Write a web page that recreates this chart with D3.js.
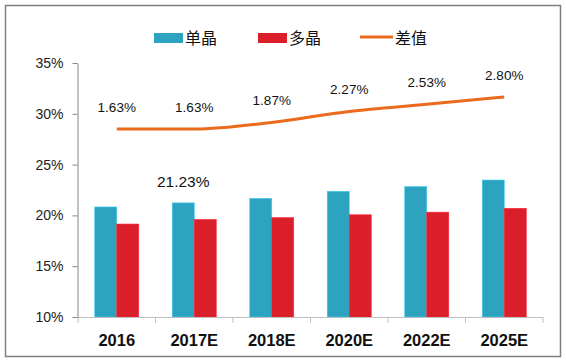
<!DOCTYPE html>
<html>
<head>
<meta charset="utf-8">
<script src="https://cdn.jsdelivr.net/npm/d3@7"></script>
<style>
  body { margin: 0; background: #fff; }
  svg { display: block; font-family: Arial, "Liberation Sans", sans-serif; }
</style>
</head>
<body>
<svg id="chart"></svg>
<script>
// Data
const categories = ['2016', '2017E', '2018E', '2020E', '2022E', '2025E'];
const monoValues = [20.83, 21.23, 21.67, 22.37, 22.83, 23.48];   // 单晶
const multiValues = [19.15, 19.60, 19.78, 20.06, 20.32, 20.70];  // 多晶
const diffValues = [1.63, 1.63, 1.87, 2.27, 2.53, 2.80];         // 差值
const seriesNames = ['单晶', '多晶', '差值'];
const yTicks = [10, 15, 20, 25, 30, 35];

// Chart dimensions
const width = 566;
const height = 363;
const plotLeft = 78, plotRight = 543, plotTop = 63, plotBottom = 317;
const colors = { '单晶': '#2ea3c0', '多晶': '#da1f2b', '差值': '#ec6a1c' };
const cjk = '"Noto Sans CJK SC", "Noto Sans", sans-serif';

const svg = d3.select('#chart')
  .attr('width', width)
  .attr('height', height);

// Outer frame
svg.append('rect')
  .attr('x', 5.5).attr('y', 5.5)
  .attr('width', 555).attr('height', 351)
  .attr('fill', 'none')
  .attr('stroke', '#7f7f7f')
  .attr('stroke-width', 1.5);

// Scales
const xScale = d3.scaleBand()
  .domain(categories)
  .range([plotLeft, plotRight]);

const groupW = 44;
const inner = d3.scaleBand()
  .domain(['单晶', '多晶'])
  .range([(xScale.bandwidth() - groupW) / 2, (xScale.bandwidth() + groupW) / 2]);

const yScale = d3.scaleLinear()
  .domain([10, 35])
  .range([plotBottom, plotTop]);

// hidden secondary axis for the difference line
const y2Scale = d3.scaleLinear()
  .domain([-5.24, 4.04])
  .range([plotBottom, plotTop]);

// Bars
const barData = categories.map((c, i) => ({ cat: c, vals: [['单晶', monoValues[i]], ['多晶', multiValues[i]]] }));
svg.selectAll('.group')
  .data(barData)
  .enter().append('g')
  .attr('class', 'group')
  .attr('transform', d => `translate(${xScale(d.cat)},0)`)
  .selectAll('rect')
  .data(d => d.vals)
  .enter().append('rect')
  .attr('x', d => inner(d[0]))
  .attr('y', d => yScale(d[1]))
  .attr('width', inner.bandwidth())
  .attr('height', d => plotBottom - yScale(d[1]))
  .attr('fill', d => colors[d[0]])
  .attr('stroke', d => d3.color(colors[d[0]]).brighter(0.6))
  .attr('stroke-width', 0.6);

// X-axis line and boundary ticks
const xAxisG = svg.append('g').attr('id', 'x-axis');
xAxisG.append('line')
  .attr('x1', plotLeft).attr('x2', plotRight)
  .attr('y1', plotBottom + 0.5).attr('y2', plotBottom + 0.5)
  .attr('stroke', '#bfbfbf');
xAxisG.selectAll('.bound')
  .data(categories.map(c => xScale(c)).concat([xScale.range()[1]]))
  .enter().append('line')
  .attr('x1', d => d).attr('x2', d => d)
  .attr('y1', plotBottom).attr('y2', plotBottom + 6)
  .attr('stroke', '#bfbfbf');
xAxisG.selectAll('.xl')
  .data(categories)
  .enter().append('text')
  .attr('x', d => xScale(d) + xScale.bandwidth() / 2)
  .attr('y', 346)
  .attr('text-anchor', 'middle')
  .attr('font-size', '16.5px')
  .attr('font-weight', 'bold')
  .attr('fill', '#111')
  .text(d => d);

// Y-axis
const yAxis = d3.axisLeft(yScale)
  .tickValues(yTicks)
  .tickSizeInner(5)
  .tickSizeOuter(0)
  .tickPadding(9)
  .tickFormat(d => d + '%');
const yAxisG = svg.append('g')
  .attr('id', 'y-axis')
  .attr('transform', `translate(${plotLeft - 0.5},0)`)
  .call(yAxis);
yAxisG.select('.domain').attr('stroke', '#868686');
yAxisG.selectAll('line').attr('stroke', '#868686');
yAxisG.selectAll('text')
  .attr('font-size', '14px')
  .attr('font-family', 'Arial, "Liberation Sans", sans-serif')
  .attr('fill', '#222');

// Difference line
const linePts = categories.map((c, i) => [xScale(c) + xScale.bandwidth() / 2, y2Scale(diffValues[i])]);
svg.append('path')
  .attr('d', d3.line().curve(d3.curveMonotoneX)(linePts))
  .attr('fill', 'none')
  .attr('stroke', colors['差值'])
  .attr('stroke-width', 3);

// Difference labels
svg.selectAll('.dl')
  .data(diffValues)
  .enter().append('text')
  .attr('x', (d, i) => linePts[i][0])
  .attr('y', (d, i) => linePts[i][1] - 22)
  .attr('dy', '0.35em')
  .attr('text-anchor', 'middle')
  .attr('font-size', '13.5px')
  .attr('fill', '#111')
  .text(d => d.toFixed(2) + '%');

// Data label on the 2017E mono bar
svg.append('text')
  .attr('x', xScale('2017E') + inner('单晶') + inner.bandwidth() / 2)
  .attr('y', yScale(monoValues[1]) - 21)
  .attr('dy', '0.35em')
  .attr('text-anchor', 'middle')
  .attr('font-size', '15.5px')
  .attr('fill', '#111')
  .text(monoValues[1].toFixed(2) + '%');

// Legend
const legendX = [154, 258, 360];
const legend = svg.selectAll('.legend')
  .data(seriesNames)
  .enter().append('g')
  .attr('class', 'legend')
  .attr('transform', (d, i) => `translate(${legendX[i]},38)`);
legend.each(function (d) {
  const g = d3.select(this);
  if (d === '差值') {
    g.append('line')
      .attr('x1', 0).attr('x2', 33)
      .attr('y1', -1).attr('y2', -1)
      .attr('stroke', colors[d])
      .attr('stroke-width', 3);
  } else {
    g.append('rect')
      .attr('x', 0).attr('y', -5)
      .attr('width', 29).attr('height', 10)
      .attr('fill', colors[d]);
  }
  g.append('text')
    .attr('x', d === '差值' ? 35 : 31)
    .attr('y', 0)
    .attr('dy', '0.36em')
    .attr('font-size', '16px')
    .attr('font-family', cjk)
    .attr('fill', '#111')
    .text(d);
});
</script>
</body>
</html>
